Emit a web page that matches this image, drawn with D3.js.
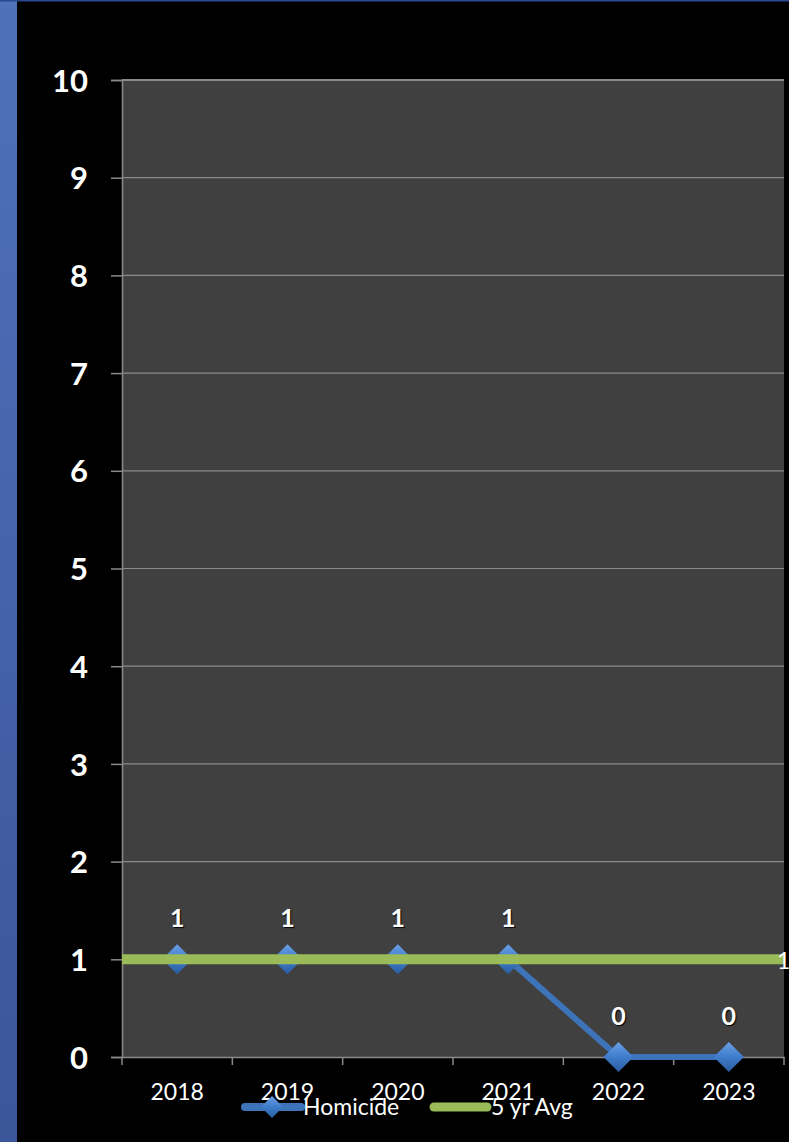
<!DOCTYPE html>
<html><head><meta charset="utf-8">
<script src="https://cdn.jsdelivr.net/npm/d3@7"></script>
<style>html,body{margin:0;padding:0;background:#000;}svg{display:block;}</style>
</head><body>
<script>
const years = ["2018","2019","2020","2021","2022","2023"];
const homicide = [1,1,1,1,0,0];
const avg5 = [1,1,1,1,1,1];
const yTicks = [0,1,2,3,4,5,6,7,8,9,10];
const seriesNames = ["Homicide","5 yr Avg"];

const W=789,H=1142;
const FONT="Lato, 'Open Sans', sans-serif";
const svg=d3.select("body").append("svg").attr("width",W).attr("height",H);
const defs=svg.append("defs");
const lg=defs.append("linearGradient").attr("id","side").attr("x1",0).attr("y1",0).attr("x2",0).attr("y2",1);
lg.append("stop").attr("offset","0%").attr("stop-color","#4f70bb");
lg.append("stop").attr("offset","100%").attr("stop-color","#3b5699");
const dg=defs.append("linearGradient").attr("id","dia").attr("x1",0).attr("y1",0).attr("x2",0).attr("y2",1);
dg.append("stop").attr("offset","0%").attr("stop-color","#6aa0e6");
dg.append("stop").attr("offset","50%").attr("stop-color","#3f7ccb");
dg.append("stop").attr("offset","100%").attr("stop-color","#2a5c9f");

svg.append("rect").attr("width",W).attr("height",H).attr("fill","#000");
svg.append("rect").attr("x",0).attr("y",0).attr("width",17).attr("height",H).attr("fill","url(#side)");
svg.append("rect").attr("x",0).attr("y",0).attr("width",W).attr("height",1.5).attr("fill","#2a4790");

const L=122,R=784,T=80,B=1057;
const x=d3.scaleBand().domain(years).range([L,R]).padding(0);
const y=d3.scaleLinear().domain([0,10]).range([B,T]);
const cx=d=>x(d)+x.bandwidth()/2;

svg.append("rect").attr("x",L).attr("y",T).attr("width",R-L).attr("height",B-T).attr("fill","#404040");

// gridlines
svg.append("g").selectAll("line").data(yTicks.filter(d=>d>0)).join("line")
 .attr("x1",L).attr("x2",R).attr("y1",d=>y(d)).attr("y2",d=>y(d))
 .attr("stroke","#8a8a8a").attr("stroke-width",d=>d===10?2:1.2);

// y axis
const ya=svg.append("g").attr("transform",`translate(${L},0)`)
 .call(d3.axisLeft(y).tickValues(yTicks).tickSize(11).tickPadding(23).tickFormat(d3.format("d")));
ya.select(".domain").attr("stroke","#8a8a8a").attr("stroke-width",1.5);
ya.selectAll(".tick line").attr("stroke","#8a8a8a").attr("stroke-width",1.5);
ya.selectAll(".tick text").attr("fill","#fff").attr("font-family",FONT)
 .attr("font-weight","bold").attr("font-size",31).attr("dy","0.36em");

// x axis
const xa=svg.append("g").attr("transform",`translate(0,${B})`)
 .call(d3.axisBottom(x).tickSize(0).tickPadding(0));
xa.select(".domain").attr("stroke","#8a8a8a").attr("stroke-width",1.5);
xa.selectAll(".tick text").attr("fill","#fff").attr("font-family",FONT).attr("font-size",23)
 .attr("y",43).attr("dy",0);
const bounds=years.map(d=>x(d)).concat([R]);
svg.append("g").selectAll("line").data(bounds).join("line")
 .attr("x1",d=>d).attr("x2",d=>d).attr("y1",B).attr("y2",B+8).attr("stroke","#8a8a8a").attr("stroke-width",1.5);

// homicide line
const line=d3.line().x((d,i)=>cx(years[i])).y(d=>y(d));
svg.append("path").datum(homicide).attr("d",line).attr("fill","none").attr("stroke","#3d73b9").attr("stroke-width",6).attr("stroke-linejoin","round");
const dia=(px,py,s)=>`M${px},${py-s}L${px+s},${py}L${px},${py+s}L${px-s},${py}Z`;
svg.append("g").selectAll("path").data(homicide).join("path")
 .attr("d",(d,i)=>dia(cx(years[i]),y(d),15)).attr("fill","url(#dia)");

// 5yr avg line (full width)
svg.append("line").attr("x1",L).attr("x2",R).attr("y1",y(avg5[0])).attr("y2",y(avg5[avg5.length-1]))
 .attr("stroke","#9bbb59").attr("stroke-width",10);

// data labels
svg.append("g").selectAll("text").data(homicide).join("text")
 .attr("x",(d,i)=>cx(years[i])).attr("y",d=>y(d)-32)
 .attr("text-anchor","middle").attr("fill","#fff").attr("font-family",FONT)
 .attr("font-weight","bold").attr("font-size",25).style("text-shadow","1px 1px 1px #000")
 .text(d=>d);
svg.append("text").attr("x",777).attr("y",y(avg5[5])+10).attr("fill","#fff")
 .attr("font-family",FONT).attr("font-size",23).text(avg5[5]);

// legend
const lgY=1107;
svg.append("line").attr("x1",245).attr("x2",301).attr("y1",lgY).attr("y2",lgY).attr("stroke","#3d73b9").attr("stroke-width",8).attr("stroke-linecap","round");
svg.append("path").attr("d",dia(272,lgY,11)).attr("fill","url(#dia)");
svg.append("text").attr("x",303).attr("y",1115).attr("fill","#fff").attr("font-family",FONT).attr("font-size",23).text(seriesNames[0]);
svg.append("line").attr("x1",434).attr("x2",487).attr("y1",lgY).attr("y2",lgY).attr("stroke","#9bbb59").attr("stroke-width",9).attr("stroke-linecap","round");
svg.append("text").attr("x",491).attr("y",1115).attr("fill","#fff").attr("font-family",FONT).attr("font-size",23).text(seriesNames[1]);
</script>
</body></html>
